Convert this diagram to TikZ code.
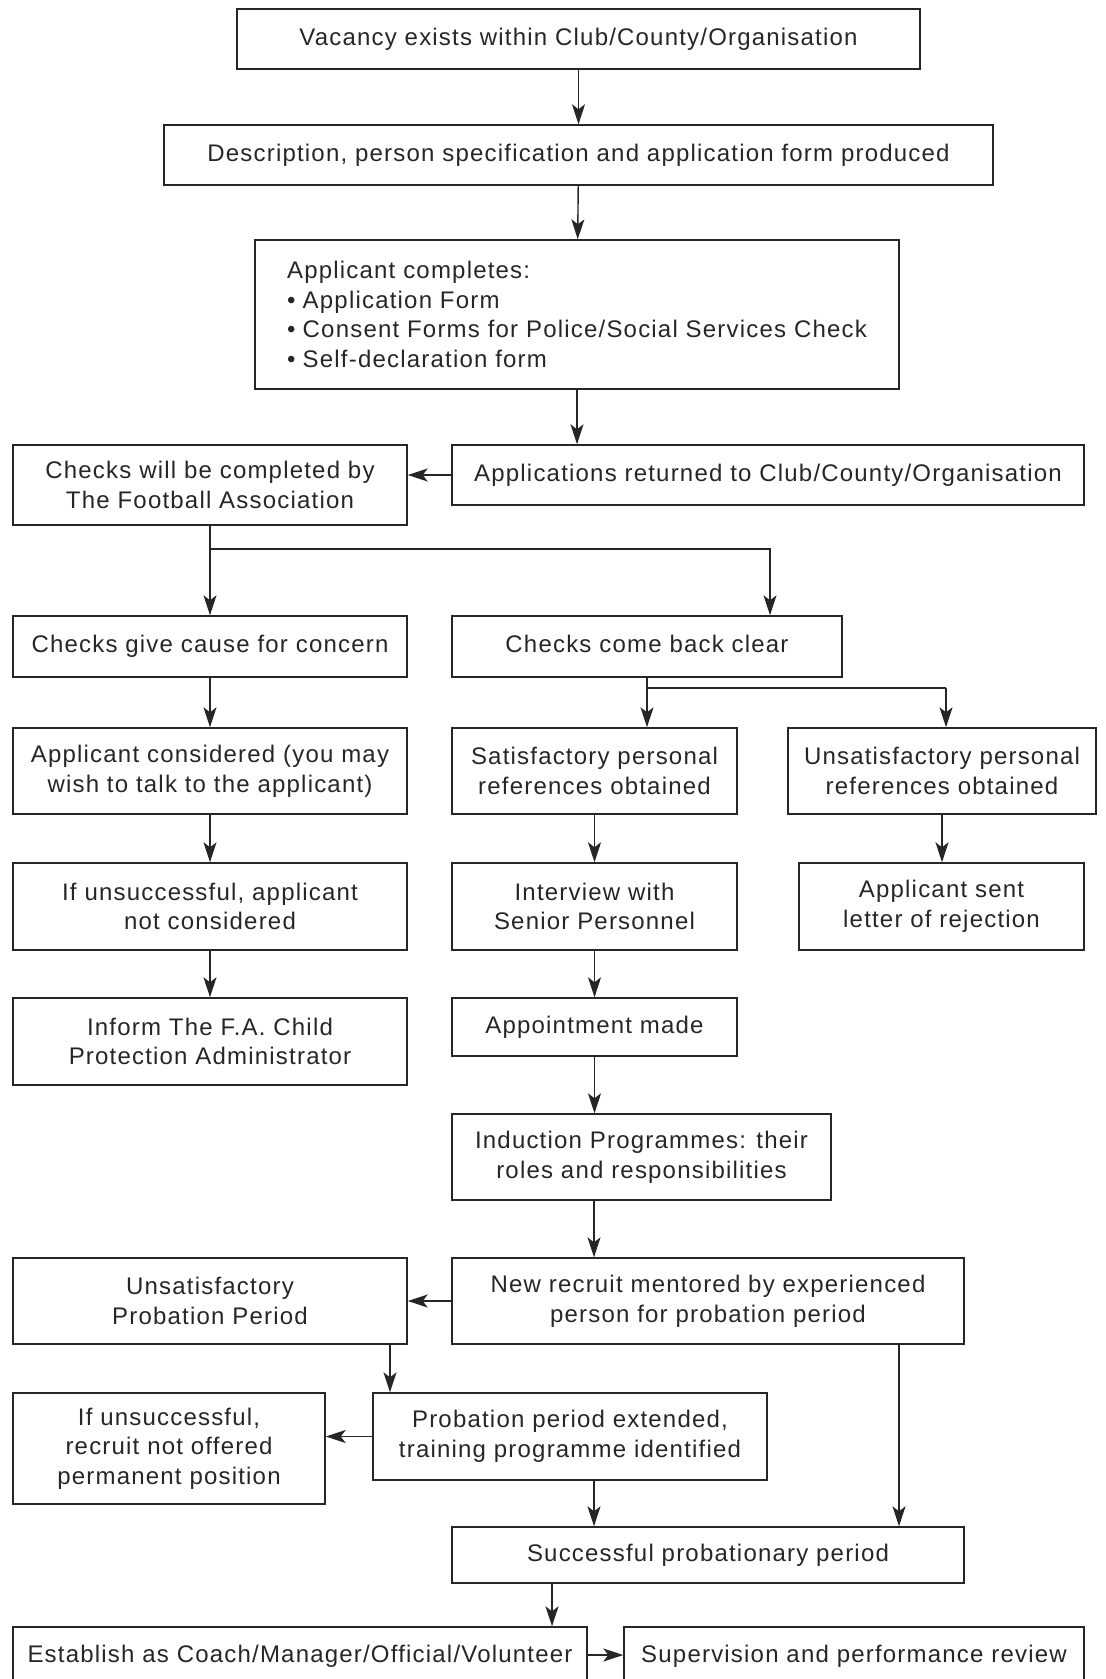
\documentclass[tikz,border=0pt]{standalone}
\usepackage{fontspec}
\setmainfont[LetterSpace=5]{Liberation Sans}
\usetikzlibrary{arrows.meta,calc}

\tikzset{main box/.style={rectangle,draw,-,align=center,inner sep=0pt,
		font=\fontsize{12}{14.8}\selectfont,text=black!85},
	sz/.style 2 args={minimum width=#1*0.5pt,minimum height=#2*0.5pt},
	box text/.style={text=black!85,font=\fontsize{12}{14.8}\selectfont}}

\begin{document}
\begin{tikzpicture}[x=0.5pt,y=-0.5pt,
		-{Stealth[length=10pt,width=6.5pt,inset=2.5pt]},
		line width=0.7pt,draw=black!85]
		\useasboundingbox (0,0) rectangle (1106,1679);
		% top column
		\node[main box,sz={683}{60}] (vac) at (578.5,39) {Vacancy exists within Club/County/Organisation};
		\node[main box,sz={829}{60}] (desc) at (578.5,155) {Description, person specification and application form produced};
		\node[main box,sz={644}{149},align=left] (appl) at (577,314.5) {Applicant completes:\\
			\textbullet\hspace{0.3em}Application Form\\
			\textbullet\hspace{0.3em}Consent Forms for Police/Social Services Check\\
			\textbullet\hspace{0.3em}Self-declaration form};
		\node[main box,sz={632}{60}] (ret) at (768,475) {Applications returned to Club/County/Organisation};
		\node[main box,sz={394}{80}] (chk) at (210,485) {Checks will be completed by\\The Football Association};
		% left branch
		\node[main box,sz={394}{61}] (cause) at (210,646.5) {Checks give cause for concern};
		\node[main box,sz={394}{86}] (cons) at (210,771) {Applicant considered (you may\\wish to talk to the applicant)};
		\node[main box,sz={394}{87}] (unsucc) at (210,906.5) {If unsuccessful, applicant\\not considered};
		\node[main box,sz={394}{87}] (inform) at (210,1041.5) {Inform The F.A. Child\\Protection Administrator};
		% right branch
		\node[main box,sz={390}{61}] (clear) at (647,646.5) {\vphantom{g}Checks come back clear};
		\node[main box,sz={285}{86}] (sat) at (594.5,771) {Satisfactory personal\\references obtained};
		\node[main box,sz={308}{86}] (unsat) at (942,771) {Unsatisfactory personal\\references obtained};
		\node[main box,sz={285}{87}] (interv) at (594.5,906.5) {Interview with\\Senior Personnel};
		\node[main box,sz={285}{87}] (letter) at (941.5,906.5) {Applicant sent\\letter of rejection};
		\node[main box,sz={285}{58}] (appt) at (594.5,1027) {Appointment made};
		\node[main box,sz={379}{86}] (induct) at (641.5,1157) {Induction Programmes: their\\roles and responsibilities};
		% probation
		\node[main box,sz={512}{86}] (mentor) at (708,1301) {New recruit mentored by experienced\\person for probation period};
		\node[main box,sz={394}{86}] (unsprob) at (210,1301) {Unsatisfactory\\Probation Period};
		\node[main box,sz={394}{87}] (extend) at (570,1436.5) {Probation period extended,\\training programme identified};
		\node[main box,sz={312}{111}] (notoff) at (169,1448.5) {If unsuccessful,\\recruit not offered\\permanent position};
		\node[main box,sz={512}{56}] (success) at (708,1555) {Successful probationary period};
		\node[main box,sz={574}{110}] (estab) at (300,1682) {};
		\node[main box,sz={460}{110}] (superv) at (854,1682) {};
		\node[box text] (estabt) at (300,1656) {Establish as Coach/Manager/Official/Volunteer};
		\node[box text] (supervt) at (854,1656) {Supervision and performance review};
		% free ends of the offset arrows
		\coordinate (split1) at (770,549);
		\coordinate (split2) at (946,688);
		\coordinate (up) at (390,1344);
		\coordinate (right) at (899,1344);
		\coordinate (mid) at (552,1583);
		\coordinate (low) at (594,1200);

		\path
		(vac) edge (desc)
		(desc) edge (appl)
		(appl.south -| 577,0) edge (ret.north -| 577,0)
		(ret.west) edge (chk.east |- ret.west)
		(chk) edge (cause)
		(cause) edge (cons)
		(cons) edge (unsucc)
		(unsucc) edge (inform)
		(clear) edge (clear |- sat.north)
		(unsat) edge (unsat |- letter.north)
		(sat) edge (interv)
		(interv) edge (appt)
		(appt) edge (appt |- induct.north)
		(low) edge (low |- mentor.north)
		(mentor) edge (unsprob)
		(up) edge (up |- extend.north)
		(extend.west) edge (notoff.east |- extend.west)
		(extend.south -| low) edge (low |- success.north)
		(right) edge (right |- success.north)
		(mid) edge (mid |- estab.north)
		(estab.east |- 0,1655) edge (superv.west |- 0,1655);
		\draw (chk |- split1) -| (split1 |- clear.north);
		\draw[-] (clear.south |- split2) -| (split2);
		\draw (split2) -- (split2 |- unsat.north);
	\end{tikzpicture}
\end{document}
